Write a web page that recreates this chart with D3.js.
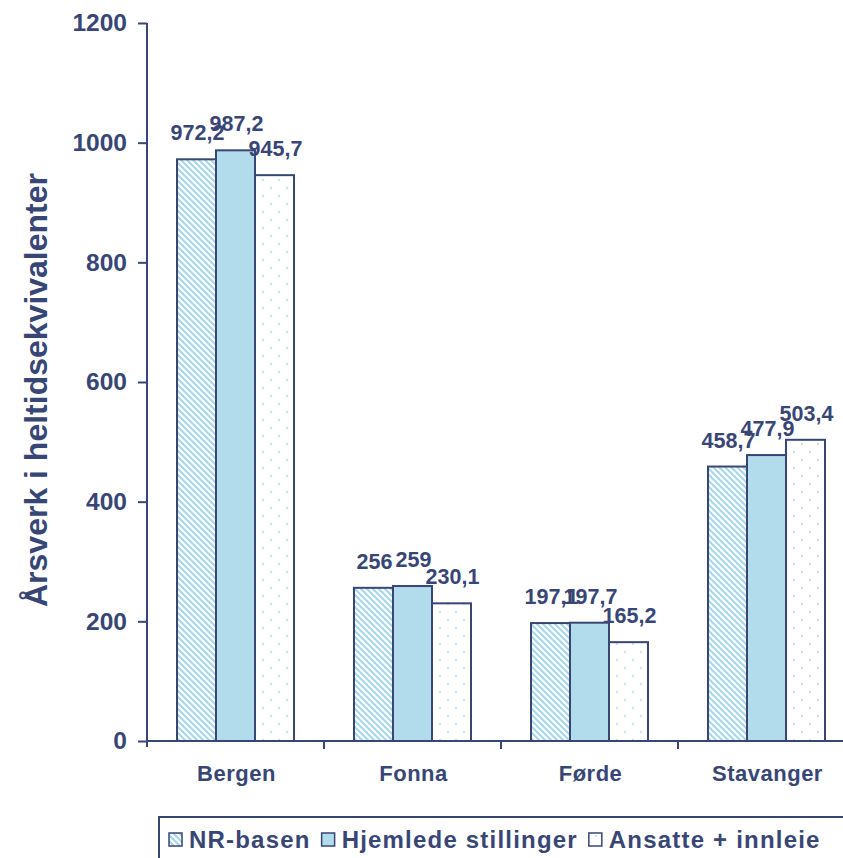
<!DOCTYPE html>
<html>
<head>
<meta charset="utf-8">
<script src="https://cdn.jsdelivr.net/npm/d3@7"></script>
<style>
  html, body { margin: 0; padding: 0; background: #fff; }
  svg { display: block; font-family: "Liberation Sans", Arial, sans-serif; }
</style>
</head>
<body>
<svg id="chart" width="843" height="858"></svg>
<script>
const categories = ["Bergen", "Fonna", "Førde", "Stavanger"];
const seriesNames = ["NR-basen", "Hjemlede stillinger", "Ansatte + innleie"];
const nrBasen = [972.2, 256, 197.1, 458.7];
const hjemlede = [987.2, 259, 197.7, 477.9];
const ansatte = [945.7, 230.1, 165.2, 503.4];
const yTicks = [0, 200, 400, 600, 800, 1000, 1200];
const yTitle = "Årsverk i heltidsekvivalenter";

const ink = "#384676";
const series = [nrBasen, hjemlede, ansatte];
const fmt = v => String(v).replace(".", ",");

const svg = d3.select("#chart");
const defs = svg.append("defs");

// Patterns
const hatch = defs.append("pattern").attr("id", "hatch").attr("patternUnits", "userSpaceOnUse")
  .attr("width", 6).attr("height", 6);
hatch.append("rect").attr("width", 6).attr("height", 6).attr("fill", "#ffffff");
hatch.append("path").attr("d", "M-1,-1 L7,7 M-4,2 L4,10 M2,-4 L10,4")
  .attr("stroke", "#a5d6ea").attr("stroke-width", 2);

const dots = defs.append("pattern").attr("id", "dots").attr("patternUnits", "userSpaceOnUse")
  .attr("width", 16).attr("height", 16);
dots.append("rect").attr("width", 16).attr("height", 16).attr("fill", "#ffffff");
dots.append("rect").attr("x", 3).attr("y", 3).attr("width", 2).attr("height", 2).attr("fill", "#c4e4f1");
dots.append("rect").attr("x", 11).attr("y", 11).attr("width", 2).attr("height", 2).attr("fill", "#c4e4f1");

const fills = ["url(#hatch)", "#b2dcec", "url(#dots)"];

const y = d3.scaleLinear().domain([0, 1200]).range([741, 23]);
const x = d3.scaleBand().domain(categories).range([147, 855]).paddingInner(0).paddingOuter(0);
const x1 = d3.scaleBand().domain(d3.range(series.length)).range([30, 147]);

// Bars
const groups = svg.append("g").selectAll("g").data(categories).join("g")
  .attr("transform", d => `translate(${x(d)},0)`);

groups.selectAll("rect").data((c, ci) => series.map((s, si) => ({ si, v: s[ci] })))
  .join("rect")
  .attr("x", d => x1(d.si))
  .attr("y", d => y(d.v))
  .attr("width", x1.bandwidth())
  .attr("height", d => y(0) - y(d.v))
  .attr("fill", d => fills[d.si])
  .attr("stroke", ink)
  .attr("stroke-width", 2);

// Value labels
groups.selectAll("text").data((c, ci) => series.map((s, si) => ({ si, v: s[ci] })))
  .join("text")
  .attr("x", d => x1(d.si) + x1.bandwidth() / 2 + 1)
  .attr("y", d => y(d.v) - 19)
  .attr("text-anchor", "middle")
  .attr("font-size", 21.5)
  .attr("font-weight", "bold")
  .attr("fill", ink)
  .text(d => fmt(d.v));

// Y axis
const yAxis = svg.append("g").attr("transform", "translate(147,0)")
  .call(d3.axisLeft(y).tickValues(yTicks).tickSize(9).tickPadding(11).tickFormat(d3.format("d")));
yAxis.select(".domain").attr("stroke", ink).attr("stroke-width", 2).attr("d", "M0,23V747");
yAxis.selectAll(".tick line").attr("stroke", ink).attr("stroke-width", 2);
yAxis.selectAll(".tick text").attr("fill", ink).attr("font-size", 24.5).attr("font-weight", "bold")
  .attr("font-family", "Liberation Sans, Arial, sans-serif");

// X axis
const xAxis = svg.append("g").attr("transform", "translate(0,741)");
xAxis.append("line").attr("x1", 147).attr("x2", 843).attr("y1", 0).attr("y2", 0)
  .attr("stroke", ink).attr("stroke-width", 2);
xAxis.selectAll("line.tk").data(categories.slice(1)).join("line").attr("class", "tk")
  .attr("x1", d => x(d)).attr("x2", d => x(d)).attr("y1", 0).attr("y2", 8)
  .attr("stroke", ink).attr("stroke-width", 2);
xAxis.selectAll("text").data(categories).join("text")
  .attr("x", d => x(d) + x.bandwidth() / 2 + 1)
  .attr("y", 40)
  .attr("text-anchor", "middle")
  .attr("font-size", 22)
  .attr("font-weight", "bold")
  .attr("letter-spacing", 0.5)
  .attr("fill", ink)
  .text(d => d);

// Y title
svg.append("text")
  .attr("transform", "translate(47,390) rotate(-90)")
  .attr("text-anchor", "middle")
  .attr("font-size", 32)
  .attr("font-weight", "bold")
  .attr("fill", ink)
  .text(yTitle);

// Legend
const legend = svg.append("g");
legend.append("rect").attr("x", 159).attr("y", 817).attr("width", 700).attr("height", 60)
  .attr("fill", "#fff").attr("stroke", ink).attr("stroke-width", 2);
let lx = 169;
seriesNames.forEach((name, i) => {
  legend.append("rect").attr("x", lx).attr("y", 833).attr("width", 13).attr("height", 13)
    .attr("fill", fills[i]).attr("stroke", ink).attr("stroke-width", 1.5);
  const t = legend.append("text").attr("x", lx + 20).attr("y", 848)
    .attr("font-size", 24).attr("font-weight", "bold").attr("letter-spacing", 1.2)
    .attr("fill", ink).text(name);
  lx = lx + 20 + t.node().getComputedTextLength() + 11;
});
</script>
</body>
</html>
